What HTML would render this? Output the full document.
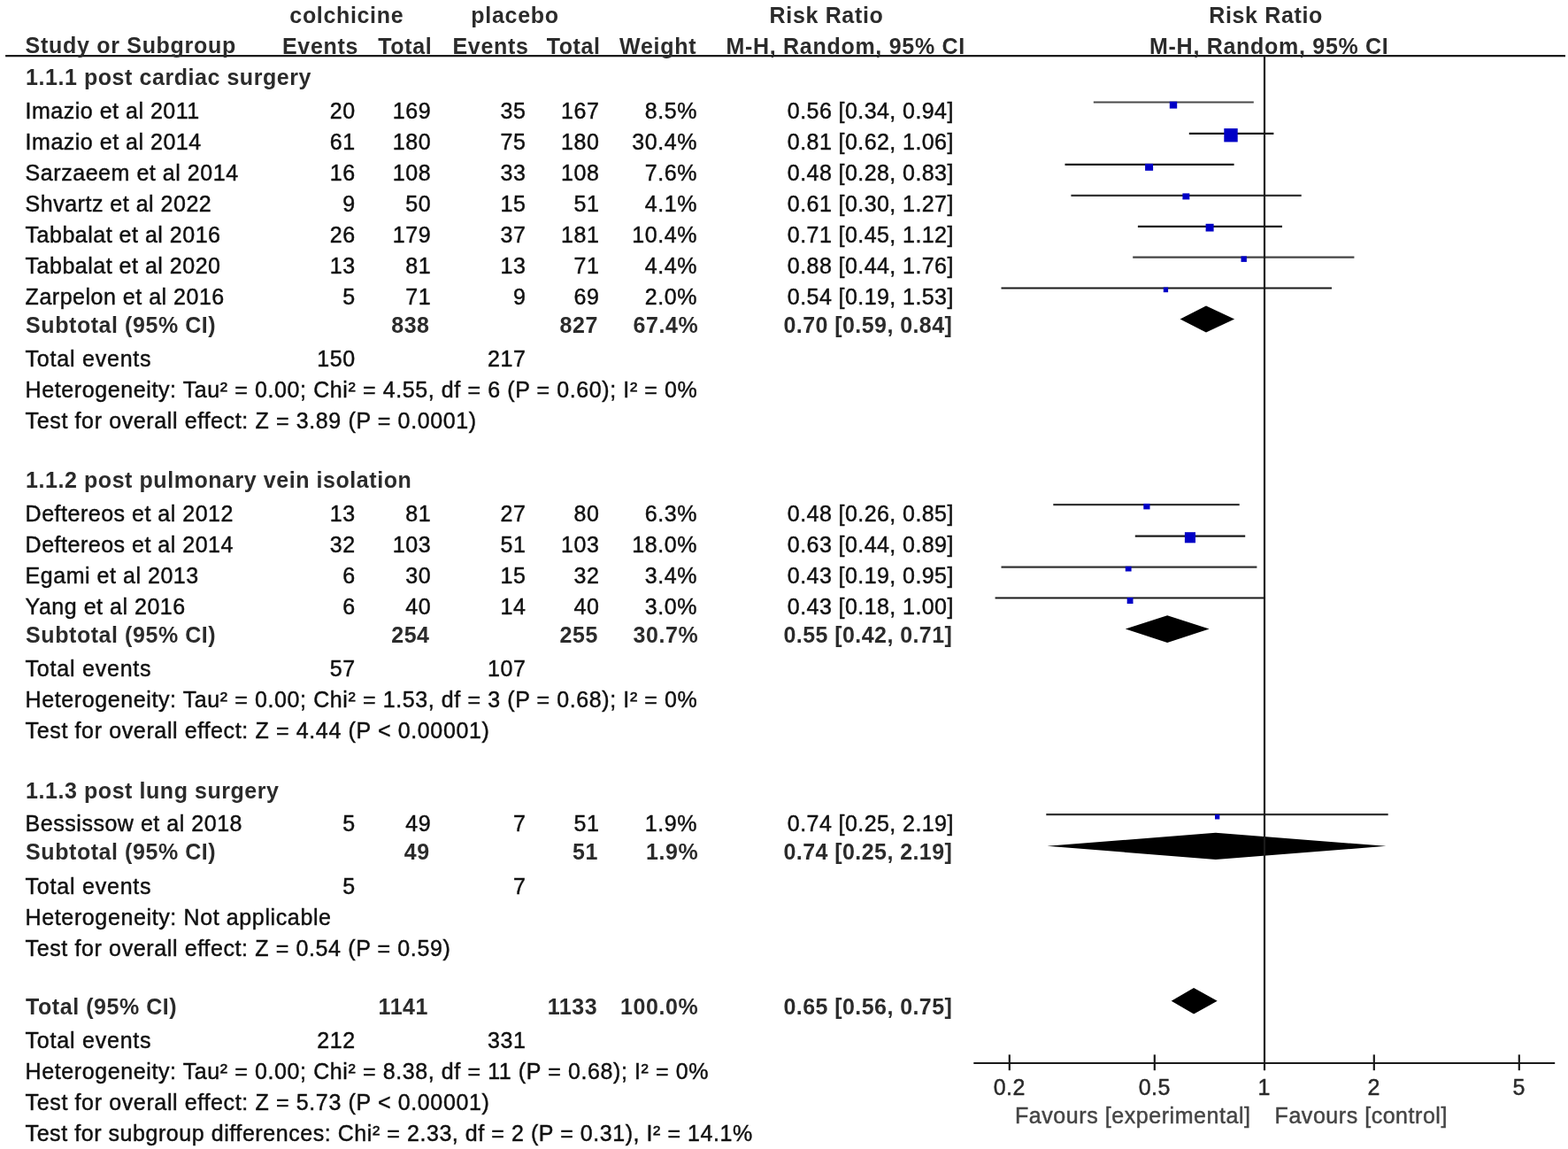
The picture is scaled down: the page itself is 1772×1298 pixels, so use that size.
<!DOCTYPE html>
<html><head><meta charset="utf-8"><title>Forest plot</title>
<style>
html,body{margin:0;padding:0;background:#fff;}
body{width:1772px;height:1298px;overflow:hidden;}
svg{display:block;font-family:"Liberation Sans",sans-serif;font-size:25.0px;}
text{stroke-width:0.45px;}
</style></head><body>
<svg width="1772" height="1298" viewBox="0 0 1772 1298">
<rect width="1772" height="1298" fill="#fff"/>
<g>
<line x1="1235.8" y1="115.5" x2="1416.8" y2="115.5" stroke="#4a4a4a" stroke-width="2.2"/>
<rect x="1321.8" y="114.7" width="8.4" height="7.9" fill="#0000c6"/>
<line x1="1343.8" y1="150.8" x2="1439.4" y2="150.8" stroke="#1a1a1a" stroke-width="2.2"/>
<rect x="1383.3" y="145.1" width="15.4" height="15.3" fill="#0000c6"/>
<line x1="1203.5" y1="185.8" x2="1394.6" y2="185.8" stroke="#1a1a1a" stroke-width="2.2"/>
<rect x="1294.1" y="184.9" width="9.0" height="7.9" fill="#0000c6"/>
<line x1="1210.4" y1="220.9" x2="1470.7" y2="220.9" stroke="#333" stroke-width="2.2"/>
<rect x="1336.4" y="218.4" width="7.9" height="7.0" fill="#0000c6"/>
<line x1="1285.9" y1="255.9" x2="1449.0" y2="255.9" stroke="#1a1a1a" stroke-width="2.2"/>
<rect x="1362.6" y="252.8" width="9.0" height="8.7" fill="#0000c6"/>
<line x1="1280.2" y1="290.6" x2="1530.4" y2="290.6" stroke="#444" stroke-width="2.2"/>
<rect x="1402.5" y="289.4" width="6.4" height="6.5" fill="#0000c6"/>
<line x1="1131.5" y1="325.5" x2="1505.0" y2="325.5" stroke="#1a1a1a" stroke-width="2.2"/>
<rect x="1314.8" y="324.5" width="5.3" height="5.7" fill="#0000c6"/>
<polygon points="1333.6,360.5 1363.0,345.5 1395.1,360.5 1363.0,375.4" fill="#000"/>
<line x1="1190.3" y1="570.1" x2="1400.7" y2="570.1" stroke="#333" stroke-width="2.2"/>
<rect x="1292.3" y="568.9" width="7.2" height="6.5" fill="#0000c6"/>
<line x1="1282.8" y1="605.7" x2="1407.2" y2="605.7" stroke="#1a1a1a" stroke-width="2.2"/>
<rect x="1338.9" y="601.2" width="12.1" height="12.1" fill="#0000c6"/>
<line x1="1131.5" y1="640.6" x2="1420.4" y2="640.6" stroke="#333" stroke-width="2.2"/>
<rect x="1271.8" y="639.8" width="6.8" height="5.7" fill="#0000c6"/>
<line x1="1124.6" y1="675.5" x2="1428.8" y2="675.5" stroke="#1a1a1a" stroke-width="2.2"/>
<rect x="1273.7" y="675.0" width="6.8" height="7.0" fill="#0000c6"/>
<polygon points="1271.8,710.5 1319.2,695.2 1366.6,710.5 1319.2,725.9" fill="#000"/>
<line x1="1182.3" y1="920.2" x2="1568.7" y2="920.2" stroke="#333" stroke-width="2.2"/>
<rect x="1373.0" y="920.0" width="5.3" height="5.5" fill="#0000c6"/>
<polygon points="1183.4,955.8 1373.8,940.7 1566.4,955.8 1373.8,971.0" fill="#000"/>
<polygon points="1323.7,1130.7 1349.1,1115.9 1375.7,1130.7 1349.1,1145.5" fill="#000"/>
<line x1="6.1" y1="63.1" x2="1769" y2="63.1" stroke="#1a1a1a" stroke-width="2.1"/>
<line x1="1429" y1="63" x2="1429" y2="1209.2" stroke="#1a1a1a" stroke-width="2.2"/>
<line x1="1100.3" y1="1201" x2="1757.2" y2="1201" stroke="#1a1a1a" stroke-width="2.2"/>
<line x1="1140.8" y1="1191.4" x2="1140.8" y2="1209.2" stroke="#1a1a1a" stroke-width="2.2"/>
<line x1="1304.8" y1="1191.4" x2="1304.8" y2="1209.2" stroke="#1a1a1a" stroke-width="2.2"/>
<line x1="1552.8" y1="1191.4" x2="1552.8" y2="1209.2" stroke="#1a1a1a" stroke-width="2.2"/>
<line x1="1716.8" y1="1191.4" x2="1716.8" y2="1209.2" stroke="#1a1a1a" stroke-width="2.2"/>
</g>
<g>
<text x="391.8" y="25.7" text-anchor="middle" font-weight="bold" fill="#2b2b2b" style="letter-spacing:0.659px">colchicine</text>
<text x="582.1" y="25.7" text-anchor="middle" font-weight="bold" fill="#2b2b2b" style="letter-spacing:0.71px">placebo</text>
<text x="934.0" y="25.7" text-anchor="middle" font-weight="bold" fill="#2b2b2b" style="letter-spacing:0.659px">Risk Ratio</text>
<text x="1430.6" y="25.7" text-anchor="middle" font-weight="bold" fill="#2b2b2b" style="letter-spacing:0.659px">Risk Ratio</text>
<text x="28.6" y="60.3" font-weight="bold" fill="#2b2b2b" style="letter-spacing:0.703px">Study or Subgroup</text>
<text x="362.1" y="60.5" text-anchor="middle" font-weight="bold" fill="#2b2b2b" style="letter-spacing:0.717px">Events</text>
<text x="457.8" y="60.5" text-anchor="middle" font-weight="bold" fill="#2b2b2b" style="letter-spacing:0.633px">Total</text>
<text x="554.6" y="60.5" text-anchor="middle" font-weight="bold" fill="#2b2b2b" style="letter-spacing:0.717px">Events</text>
<text x="648.2" y="60.5" text-anchor="middle" font-weight="bold" fill="#2b2b2b" style="letter-spacing:0.633px">Total</text>
<text x="743.7" y="60.5" text-anchor="middle" font-weight="bold" fill="#2b2b2b" style="letter-spacing:0.722px">Weight</text>
<text x="955.7" y="60.5" text-anchor="middle" font-weight="bold" fill="#2b2b2b" style="letter-spacing:0.711px">M-H, Random, 95% CI</text>
<text x="1434.3" y="60.5" text-anchor="middle" font-weight="bold" fill="#2b2b2b" style="letter-spacing:0.711px">M-H, Random, 95% CI</text>
<text x="29.1" y="95.6" font-weight="bold" fill="#2b2b2b" style="letter-spacing:0.555px">1.1.1 post cardiac surgery</text>
<text x="28.6" y="133.9" fill="#101010" stroke="#101010" style="letter-spacing:0.504px">Imazio et al 2011</text>
<text x="401.7" y="133.9" text-anchor="end" fill="#101010" stroke="#101010" style="letter-spacing:0.556px">20</text>
<text x="487.2" y="133.9" text-anchor="end" fill="#101010" stroke="#101010" style="letter-spacing:0.556px">169</text>
<text x="594.5" y="133.9" text-anchor="end" fill="#101010" stroke="#101010" style="letter-spacing:0.556px">35</text>
<text x="677.5" y="133.9" text-anchor="end" fill="#101010" stroke="#101010" style="letter-spacing:0.556px">167</text>
<text x="788.0" y="133.9" text-anchor="end" fill="#101010" stroke="#101010" style="letter-spacing:0.57px">8.5%</text>
<text x="1077.8" y="133.9" text-anchor="end" fill="#101010" stroke="#101010" style="letter-spacing:0.425px">0.56 [0.34, 0.94]</text>
<text x="28.6" y="168.9" fill="#101010" stroke="#101010" style="letter-spacing:0.508px">Imazio et al 2014</text>
<text x="401.7" y="168.9" text-anchor="end" fill="#101010" stroke="#101010" style="letter-spacing:0.556px">61</text>
<text x="487.2" y="168.9" text-anchor="end" fill="#101010" stroke="#101010" style="letter-spacing:0.556px">180</text>
<text x="594.5" y="168.9" text-anchor="end" fill="#101010" stroke="#101010" style="letter-spacing:0.556px">75</text>
<text x="677.5" y="168.9" text-anchor="end" fill="#101010" stroke="#101010" style="letter-spacing:0.556px">180</text>
<text x="788.0" y="168.9" text-anchor="end" fill="#101010" stroke="#101010" style="letter-spacing:0.567px">30.4%</text>
<text x="1077.8" y="168.9" text-anchor="end" fill="#101010" stroke="#101010" style="letter-spacing:0.425px">0.81 [0.62, 1.06]</text>
<text x="28.6" y="203.9" fill="#101010" stroke="#101010" style="letter-spacing:0.546px">Sarzaeem et al 2014</text>
<text x="401.7" y="203.9" text-anchor="end" fill="#101010" stroke="#101010" style="letter-spacing:0.556px">16</text>
<text x="487.2" y="203.9" text-anchor="end" fill="#101010" stroke="#101010" style="letter-spacing:0.556px">108</text>
<text x="594.5" y="203.9" text-anchor="end" fill="#101010" stroke="#101010" style="letter-spacing:0.556px">33</text>
<text x="677.5" y="203.9" text-anchor="end" fill="#101010" stroke="#101010" style="letter-spacing:0.556px">108</text>
<text x="788.0" y="203.9" text-anchor="end" fill="#101010" stroke="#101010" style="letter-spacing:0.57px">7.6%</text>
<text x="1077.8" y="203.9" text-anchor="end" fill="#101010" stroke="#101010" style="letter-spacing:0.425px">0.48 [0.28, 0.83]</text>
<text x="28.6" y="238.9" fill="#101010" stroke="#101010" style="letter-spacing:0.508px">Shvartz et al 2022</text>
<text x="401.7" y="238.9" text-anchor="end" fill="#101010" stroke="#101010" style="letter-spacing:0.556px">9</text>
<text x="487.2" y="238.9" text-anchor="end" fill="#101010" stroke="#101010" style="letter-spacing:0.556px">50</text>
<text x="594.5" y="238.9" text-anchor="end" fill="#101010" stroke="#101010" style="letter-spacing:0.556px">15</text>
<text x="677.5" y="238.9" text-anchor="end" fill="#101010" stroke="#101010" style="letter-spacing:0.556px">51</text>
<text x="788.0" y="238.9" text-anchor="end" fill="#101010" stroke="#101010" style="letter-spacing:0.57px">4.1%</text>
<text x="1077.8" y="238.9" text-anchor="end" fill="#101010" stroke="#101010" style="letter-spacing:0.425px">0.61 [0.30, 1.27]</text>
<text x="28.6" y="273.9" fill="#101010" stroke="#101010" style="letter-spacing:0.505px">Tabbalat et al 2016</text>
<text x="401.7" y="273.9" text-anchor="end" fill="#101010" stroke="#101010" style="letter-spacing:0.556px">26</text>
<text x="487.2" y="273.9" text-anchor="end" fill="#101010" stroke="#101010" style="letter-spacing:0.556px">179</text>
<text x="594.5" y="273.9" text-anchor="end" fill="#101010" stroke="#101010" style="letter-spacing:0.556px">37</text>
<text x="677.5" y="273.9" text-anchor="end" fill="#101010" stroke="#101010" style="letter-spacing:0.556px">181</text>
<text x="788.0" y="273.9" text-anchor="end" fill="#101010" stroke="#101010" style="letter-spacing:0.567px">10.4%</text>
<text x="1077.8" y="273.9" text-anchor="end" fill="#101010" stroke="#101010" style="letter-spacing:0.425px">0.71 [0.45, 1.12]</text>
<text x="28.6" y="308.9" fill="#101010" stroke="#101010" style="letter-spacing:0.505px">Tabbalat et al 2020</text>
<text x="401.7" y="308.9" text-anchor="end" fill="#101010" stroke="#101010" style="letter-spacing:0.556px">13</text>
<text x="487.2" y="308.9" text-anchor="end" fill="#101010" stroke="#101010" style="letter-spacing:0.556px">81</text>
<text x="594.5" y="308.9" text-anchor="end" fill="#101010" stroke="#101010" style="letter-spacing:0.556px">13</text>
<text x="677.5" y="308.9" text-anchor="end" fill="#101010" stroke="#101010" style="letter-spacing:0.556px">71</text>
<text x="788.0" y="308.9" text-anchor="end" fill="#101010" stroke="#101010" style="letter-spacing:0.57px">4.4%</text>
<text x="1077.8" y="308.9" text-anchor="end" fill="#101010" stroke="#101010" style="letter-spacing:0.425px">0.88 [0.44, 1.76]</text>
<text x="28.6" y="343.9" fill="#101010" stroke="#101010" style="letter-spacing:0.514px">Zarpelon et al 2016</text>
<text x="401.7" y="343.9" text-anchor="end" fill="#101010" stroke="#101010" style="letter-spacing:0.556px">5</text>
<text x="487.2" y="343.9" text-anchor="end" fill="#101010" stroke="#101010" style="letter-spacing:0.556px">71</text>
<text x="594.5" y="343.9" text-anchor="end" fill="#101010" stroke="#101010" style="letter-spacing:0.556px">9</text>
<text x="677.5" y="343.9" text-anchor="end" fill="#101010" stroke="#101010" style="letter-spacing:0.556px">69</text>
<text x="788.0" y="343.9" text-anchor="end" fill="#101010" stroke="#101010" style="letter-spacing:0.57px">2.0%</text>
<text x="1077.8" y="343.9" text-anchor="end" fill="#101010" stroke="#101010" style="letter-spacing:0.425px">0.54 [0.19, 1.53]</text>
<text x="29.1" y="376.2" font-weight="bold" fill="#2b2b2b" style="letter-spacing:0.564px">Subtotal (95% CI)</text>
<text x="485.6" y="376.2" text-anchor="end" font-weight="bold" fill="#2b2b2b" style="letter-spacing:0.556px">838</text>
<text x="675.9" y="376.2" text-anchor="end" font-weight="bold" fill="#2b2b2b" style="letter-spacing:0.556px">827</text>
<text x="789.2" y="376.2" text-anchor="end" font-weight="bold" fill="#2b2b2b" style="letter-spacing:0.567px">67.4%</text>
<text x="1076.3" y="376.2" text-anchor="end" font-weight="bold" fill="#2b2b2b" style="letter-spacing:0.432px">0.70 [0.59, 0.84]</text>
<text x="28.6" y="413.8" fill="#101010" stroke="#101010" style="letter-spacing:0.775px">Total events</text>
<text x="401.7" y="413.8" text-anchor="end" fill="#101010" stroke="#101010" style="letter-spacing:0.556px">150</text>
<text x="594.5" y="413.8" text-anchor="end" fill="#101010" stroke="#101010" style="letter-spacing:0.556px">217</text>
<text x="28.6" y="448.8" fill="#101010" stroke="#101010" style="letter-spacing:0.6px">Heterogeneity: Tau² = 0.00; Chi² = 4.55, df = 6 (P = 0.60); I² = 0%</text>
<text x="28.6" y="483.8" fill="#101010" stroke="#101010" style="letter-spacing:0.629px">Test for overall effect: Z = 3.89 (P = 0.0001)</text>
<text x="29.1" y="550.6" font-weight="bold" fill="#2b2b2b" style="letter-spacing:0.556px">1.1.2 post pulmonary vein isolation</text>
<text x="28.6" y="588.9" fill="#101010" stroke="#101010" style="letter-spacing:0.51px">Deftereos et al 2012</text>
<text x="401.7" y="588.9" text-anchor="end" fill="#101010" stroke="#101010" style="letter-spacing:0.556px">13</text>
<text x="487.2" y="588.9" text-anchor="end" fill="#101010" stroke="#101010" style="letter-spacing:0.556px">81</text>
<text x="594.5" y="588.9" text-anchor="end" fill="#101010" stroke="#101010" style="letter-spacing:0.556px">27</text>
<text x="677.5" y="588.9" text-anchor="end" fill="#101010" stroke="#101010" style="letter-spacing:0.556px">80</text>
<text x="788.0" y="588.9" text-anchor="end" fill="#101010" stroke="#101010" style="letter-spacing:0.57px">6.3%</text>
<text x="1077.8" y="588.9" text-anchor="end" fill="#101010" stroke="#101010" style="letter-spacing:0.425px">0.48 [0.26, 0.85]</text>
<text x="28.6" y="623.9" fill="#101010" stroke="#101010" style="letter-spacing:0.51px">Deftereos et al 2014</text>
<text x="401.7" y="623.9" text-anchor="end" fill="#101010" stroke="#101010" style="letter-spacing:0.556px">32</text>
<text x="487.2" y="623.9" text-anchor="end" fill="#101010" stroke="#101010" style="letter-spacing:0.556px">103</text>
<text x="594.5" y="623.9" text-anchor="end" fill="#101010" stroke="#101010" style="letter-spacing:0.556px">51</text>
<text x="677.5" y="623.9" text-anchor="end" fill="#101010" stroke="#101010" style="letter-spacing:0.556px">103</text>
<text x="788.0" y="623.9" text-anchor="end" fill="#101010" stroke="#101010" style="letter-spacing:0.567px">18.0%</text>
<text x="1077.8" y="623.9" text-anchor="end" fill="#101010" stroke="#101010" style="letter-spacing:0.425px">0.63 [0.44, 0.89]</text>
<text x="28.6" y="658.9" fill="#101010" stroke="#101010" style="letter-spacing:0.529px">Egami et al 2013</text>
<text x="401.7" y="658.9" text-anchor="end" fill="#101010" stroke="#101010" style="letter-spacing:0.556px">6</text>
<text x="487.2" y="658.9" text-anchor="end" fill="#101010" stroke="#101010" style="letter-spacing:0.556px">30</text>
<text x="594.5" y="658.9" text-anchor="end" fill="#101010" stroke="#101010" style="letter-spacing:0.556px">15</text>
<text x="677.5" y="658.9" text-anchor="end" fill="#101010" stroke="#101010" style="letter-spacing:0.556px">32</text>
<text x="788.0" y="658.9" text-anchor="end" fill="#101010" stroke="#101010" style="letter-spacing:0.57px">3.4%</text>
<text x="1077.8" y="658.9" text-anchor="end" fill="#101010" stroke="#101010" style="letter-spacing:0.425px">0.43 [0.19, 0.95]</text>
<text x="28.6" y="693.9" fill="#101010" stroke="#101010" style="letter-spacing:0.522px">Yang et al 2016</text>
<text x="401.7" y="693.9" text-anchor="end" fill="#101010" stroke="#101010" style="letter-spacing:0.556px">6</text>
<text x="487.2" y="693.9" text-anchor="end" fill="#101010" stroke="#101010" style="letter-spacing:0.556px">40</text>
<text x="594.5" y="693.9" text-anchor="end" fill="#101010" stroke="#101010" style="letter-spacing:0.556px">14</text>
<text x="677.5" y="693.9" text-anchor="end" fill="#101010" stroke="#101010" style="letter-spacing:0.556px">40</text>
<text x="788.0" y="693.9" text-anchor="end" fill="#101010" stroke="#101010" style="letter-spacing:0.57px">3.0%</text>
<text x="1077.8" y="693.9" text-anchor="end" fill="#101010" stroke="#101010" style="letter-spacing:0.425px">0.43 [0.18, 1.00]</text>
<text x="29.1" y="726.0" font-weight="bold" fill="#2b2b2b" style="letter-spacing:0.564px">Subtotal (95% CI)</text>
<text x="485.6" y="726.0" text-anchor="end" font-weight="bold" fill="#2b2b2b" style="letter-spacing:0.556px">254</text>
<text x="675.9" y="726.0" text-anchor="end" font-weight="bold" fill="#2b2b2b" style="letter-spacing:0.556px">255</text>
<text x="789.2" y="726.0" text-anchor="end" font-weight="bold" fill="#2b2b2b" style="letter-spacing:0.567px">30.7%</text>
<text x="1076.3" y="726.0" text-anchor="end" font-weight="bold" fill="#2b2b2b" style="letter-spacing:0.432px">0.55 [0.42, 0.71]</text>
<text x="28.6" y="764.1" fill="#101010" stroke="#101010" style="letter-spacing:0.775px">Total events</text>
<text x="401.7" y="764.1" text-anchor="end" fill="#101010" stroke="#101010" style="letter-spacing:0.556px">57</text>
<text x="594.5" y="764.1" text-anchor="end" fill="#101010" stroke="#101010" style="letter-spacing:0.556px">107</text>
<text x="28.6" y="799.1" fill="#101010" stroke="#101010" style="letter-spacing:0.6px">Heterogeneity: Tau² = 0.00; Chi² = 1.53, df = 3 (P = 0.68); I² = 0%</text>
<text x="28.6" y="834.1" fill="#101010" stroke="#101010" style="letter-spacing:0.631px">Test for overall effect: Z = 4.44 (P &lt; 0.00001)</text>
<text x="29.1" y="901.5" font-weight="bold" fill="#2b2b2b" style="letter-spacing:0.556px">1.1.3 post lung surgery</text>
<text x="28.6" y="939.1" fill="#101010" stroke="#101010" style="letter-spacing:0.53px">Bessissow et al 2018</text>
<text x="401.7" y="939.1" text-anchor="end" fill="#101010" stroke="#101010" style="letter-spacing:0.556px">5</text>
<text x="487.2" y="939.1" text-anchor="end" fill="#101010" stroke="#101010" style="letter-spacing:0.556px">49</text>
<text x="594.5" y="939.1" text-anchor="end" fill="#101010" stroke="#101010" style="letter-spacing:0.556px">7</text>
<text x="677.5" y="939.1" text-anchor="end" fill="#101010" stroke="#101010" style="letter-spacing:0.556px">51</text>
<text x="788.0" y="939.1" text-anchor="end" fill="#101010" stroke="#101010" style="letter-spacing:0.57px">1.9%</text>
<text x="1077.8" y="939.1" text-anchor="end" fill="#101010" stroke="#101010" style="letter-spacing:0.425px">0.74 [0.25, 2.19]</text>
<text x="29.1" y="971.3" font-weight="bold" fill="#2b2b2b" style="letter-spacing:0.564px">Subtotal (95% CI)</text>
<text x="485.6" y="971.3" text-anchor="end" font-weight="bold" fill="#2b2b2b" style="letter-spacing:0.556px">49</text>
<text x="675.9" y="971.3" text-anchor="end" font-weight="bold" fill="#2b2b2b" style="letter-spacing:0.556px">51</text>
<text x="789.2" y="971.3" text-anchor="end" font-weight="bold" fill="#2b2b2b" style="letter-spacing:0.57px">1.9%</text>
<text x="1076.3" y="971.3" text-anchor="end" font-weight="bold" fill="#2b2b2b" style="letter-spacing:0.432px">0.74 [0.25, 2.19]</text>
<text x="28.6" y="1009.6" fill="#101010" stroke="#101010" style="letter-spacing:0.775px">Total events</text>
<text x="401.7" y="1009.6" text-anchor="end" fill="#101010" stroke="#101010" style="letter-spacing:0.556px">5</text>
<text x="594.5" y="1009.6" text-anchor="end" fill="#101010" stroke="#101010" style="letter-spacing:0.556px">7</text>
<text x="28.6" y="1044.6" fill="#101010" stroke="#101010" style="letter-spacing:0.622px">Heterogeneity: Not applicable</text>
<text x="28.6" y="1079.6" fill="#101010" stroke="#101010" style="letter-spacing:0.622px">Test for overall effect: Z = 0.54 (P = 0.59)</text>
<text x="29.1" y="1145.8" font-weight="bold" fill="#2b2b2b" style="letter-spacing:0.547px">Total (95% CI)</text>
<text x="484.0" y="1145.8" text-anchor="end" font-weight="bold" fill="#2b2b2b" style="letter-spacing:0.542px">1141</text>
<text x="675.1" y="1145.8" text-anchor="end" font-weight="bold" fill="#2b2b2b" style="letter-spacing:0.542px">1133</text>
<text x="789.2" y="1145.8" text-anchor="end" font-weight="bold" fill="#2b2b2b" style="letter-spacing:0.565px">100.0%</text>
<text x="1076.3" y="1145.8" text-anchor="end" font-weight="bold" fill="#2b2b2b" style="letter-spacing:0.432px">0.65 [0.56, 0.75]</text>
<text x="28.6" y="1184.3" fill="#101010" stroke="#101010" style="letter-spacing:0.775px">Total events</text>
<text x="401.7" y="1184.3" text-anchor="end" fill="#101010" stroke="#101010" style="letter-spacing:0.556px">212</text>
<text x="594.5" y="1184.3" text-anchor="end" fill="#101010" stroke="#101010" style="letter-spacing:0.556px">331</text>
<text x="28.6" y="1219.3" fill="#101010" stroke="#101010" style="letter-spacing:0.6px">Heterogeneity: Tau² = 0.00; Chi² = 8.38, df = 11 (P = 0.68); I² = 0%</text>
<text x="28.6" y="1254.3" fill="#101010" stroke="#101010" style="letter-spacing:0.631px">Test for overall effect: Z = 5.73 (P &lt; 0.00001)</text>
<text x="28.6" y="1289.3" fill="#101010" stroke="#101010" style="letter-spacing:0.558px">Test for subgroup differences: Chi² = 2.33, df = 2 (P = 0.31), I² = 14.1%</text>
<text x="1140.8" y="1236.7" text-anchor="middle" fill="#2a2a2a" stroke="#2a2a2a" style="letter-spacing:0.463px">0.2</text>
<text x="1304.8" y="1236.7" text-anchor="middle" fill="#2a2a2a" stroke="#2a2a2a" style="letter-spacing:0.463px">0.5</text>
<text x="1428.8" y="1236.7" text-anchor="middle" fill="#2a2a2a" stroke="#2a2a2a" style="letter-spacing:0.556px">1</text>
<text x="1552.8" y="1236.7" text-anchor="middle" fill="#2a2a2a" stroke="#2a2a2a" style="letter-spacing:0.556px">2</text>
<text x="1716.8" y="1236.7" text-anchor="middle" fill="#2a2a2a" stroke="#2a2a2a" style="letter-spacing:0.556px">5</text>
<text x="1413.6" y="1268.6" text-anchor="end" fill="#444" stroke="#444" style="letter-spacing:0.562px">Favours [experimental]</text>
<text x="1440.6" y="1268.6" fill="#444" stroke="#444" style="letter-spacing:0.538px">Favours [control]</text>
</g>
</svg>
</body></html>
